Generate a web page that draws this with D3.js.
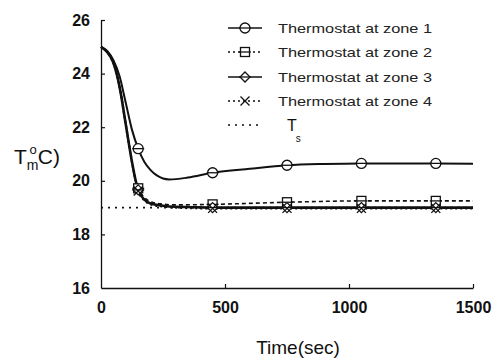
<!DOCTYPE html>
<html>
<head>
<meta charset="utf-8">
<script src="https://cdn.jsdelivr.net/npm/d3@7"></script>
<style>
  html, body { margin: 0; padding: 0; background: #fff; }
  svg { display: block; }
</style>
</head>
<body>
<svg id="chart" width="500" height="361"></svg>
<script>
// Zone temperature response after a set-point change
const xTicks = [0, 500, 1000, 1500];
const yTicks = [16, 18, 20, 22, 24, 26];

const time1 = [0, 25, 50, 75, 100, 125, 150, 175, 200, 225, 275, 350, 450, 600, 750, 900, 1050, 1200, 1350, 1500];
const zone1 = [25.0, 24.85, 24.5, 23.9, 22.9, 21.9, 21.2, 20.7, 20.4, 20.2, 20.05, 20.12, 20.3, 20.45, 20.58, 20.63, 20.65, 20.65, 20.65, 20.64];

const time2 = [0, 25, 50, 75, 100, 125, 140, 150, 175, 200, 250, 300, 450, 750, 1050, 1350, 1500];
const zone2 = [25.0, 24.8, 24.4, 23.5, 22.1, 20.7, 20.0, 19.72, 19.38, 19.22, 19.13, 19.1, 19.12, 19.2, 19.25, 19.25, 19.25];
const zone3 = [25.0, 24.8, 24.4, 23.5, 22.1, 20.7, 20.0, 19.66, 19.3, 19.15, 19.07, 19.03, 19.0, 19.0, 19.0, 19.0, 19.0];
const zone4 = [25.0, 24.8, 24.4, 23.5, 22.1, 20.7, 20.0, 19.62, 19.27, 19.12, 19.04, 19.0, 18.97, 18.97, 18.97, 18.97, 18.97];

const markerTimes = [150, 450, 750, 1050, 1350];
const setPoint = 19;

const seriesNames = ["Thermostat at zone 1", "Thermostat at zone 2", "Thermostat at zone 3", "Thermostat at zone 4"];

const svg = d3.select("#chart");
const x = d3.scaleLinear().domain([0, 1500]).range([101, 473]);
const y = d3.scaleLinear().domain([16, 26]).range([288, 20]);

const series = [
  { t: time1, v: zone1, dash: null, width: 2, marker: "circle" },
  { t: time2, v: zone2, dash: "4,3", width: 1.6, marker: "square" },
  { t: time2, v: zone3, dash: null, width: 2.6, marker: "diamond" },
  { t: time2, v: zone4, dash: "2,3", width: 2.2, marker: "cross" }
];

const line = d3.line().x(d => x(d[0])).y(d => y(d[1])).curve(d3.curveMonotoneX);

function drawMarker(g, type, cx, cy) {
  const s = g.append("g").attr("transform", `translate(${cx},${cy})`)
    .attr("fill", "none").attr("stroke", "#111").attr("stroke-width", 1.3);
  if (type === "circle") s.append("circle").attr("r", 5).attr("fill", "#fff");
  if (type === "square") s.append("rect").attr("x", -4.5).attr("y", -4.5).attr("width", 9).attr("height", 9).attr("fill", "#fff");
  if (type === "diamond") s.append("path").attr("d", "M0,-5L5,0L0,5L-5,0Z").attr("fill", "#fff");
  if (type === "cross") s.append("path").attr("d", "M-4.5,-4.5L4.5,4.5M-4.5,4.5L4.5,-4.5");
  if (type !== "cross") s.append("line").attr("x1", -6).attr("x2", 6);
}

// set-point line
svg.append("path")
  .attr("d", line([[0, setPoint], [1500, setPoint]]))
  .attr("fill", "none").attr("stroke", "#111").attr("stroke-width", 1.8)
  .attr("stroke-dasharray", "2,5");

series.forEach(s => {
  const pts = s.t.map((t, i) => [t, s.v[i]]);
  svg.append("path").attr("d", line(pts))
    .attr("fill", "none").attr("stroke", "#111")
    .attr("stroke-width", s.width)
    .attr("stroke-dasharray", s.dash);
});

series.forEach(s => {
  const interp = t => {
    const i = d3.bisectLeft(s.t, t);
    if (s.t[i] === t) return s.v[i];
    const f = (t - s.t[i - 1]) / (s.t[i] - s.t[i - 1]);
    return s.v[i - 1] + f * (s.v[i] - s.v[i - 1]);
  };
  markerTimes.forEach(t => drawMarker(svg, s.marker, x(t), y(interp(t))));
});

// axes
const yAxis = d3.axisLeft(y).tickValues(yTicks).tickFormat(d3.format("d"))
  .tickSizeInner(-4).tickSizeOuter(0).tickPadding(11);
const xAxis = d3.axisBottom(x).tickValues(xTicks).tickFormat(d3.format("d"))
  .tickSizeInner(-4).tickSizeOuter(0).tickPadding(14);

const gy = svg.append("g").attr("transform", "translate(101,0)").call(yAxis);
const gx = svg.append("g").attr("transform", "translate(0,288)").call(xAxis);
[gy, gx].forEach(g => {
  g.select(".domain").attr("stroke", "#111").attr("stroke-width", 1.3);
  g.selectAll(".tick line").attr("stroke", "#111").attr("stroke-width", 1.2);
  g.selectAll(".tick text").attr("fill", "#111")
    .style("font-family", "Liberation Sans, Arial, sans-serif")
    .style("font-size", "16px").style("font-weight", "bold");
});
gx.selectAll(".tick").filter(d => d === 0).select("line").remove();
gy.selectAll(".tick").filter(d => d === 16).select("line").remove();

// axis titles
svg.append("text").attr("x", 298).attr("y", 354).attr("text-anchor", "middle")
  .style("font-family", "Liberation Sans, Arial, sans-serif").style("font-size", "19px")
  .attr("fill", "#111").text("Time(sec)");

const yl = svg.append("text").attr("x", 14).attr("y", 164)
  .style("font-family", "Liberation Sans, Arial, sans-serif").style("font-size", "21px")
  .attr("fill", "#111");
yl.append("tspan").text("T");
yl.append("tspan").attr("dy", 6).style("font-size", "14px").text("m");
yl.append("tspan").attr("dx", -9).attr("dy", -16).style("font-size", "13px").text("o");
yl.append("tspan").attr("dx", 1).attr("dy", 10).text("C)");

// legend
const legendY = [28, 52, 77, 101];
const lg = svg.append("g");
series.forEach((s, i) => {
  const ly = legendY[i];
  lg.append("line").attr("x1", 228).attr("x2", 262).attr("y1", ly).attr("y2", ly)
    .attr("stroke", "#111").attr("stroke-width", 1.3)
    .attr("stroke-dasharray", s.dash ? "2,3" : null);
  drawMarker(lg, s.marker, 245, ly);
  lg.append("text").attr("x", 278).attr("y", ly + 5)
    .attr("textLength", 154).attr("lengthAdjust", "spacingAndGlyphs")
    .style("font-family", "Liberation Sans, Arial, sans-serif").style("font-size", "13px")
    .attr("fill", "#222").text(seriesNames[i]);
});
lg.append("line").attr("x1", 228).attr("x2", 262).attr("y1", 125).attr("y2", 125)
  .attr("stroke", "#111").attr("stroke-width", 1.5).attr("stroke-dasharray", "2,5");
const ts = lg.append("text").attr("x", 287).attr("y", 131)
  .style("font-family", "Liberation Sans, Arial, sans-serif").style("font-size", "16px")
  .attr("fill", "#111");
ts.append("tspan").text("T");
ts.append("tspan").attr("dy", 11).attr("dx", -1).style("font-size", "10px").text("s");
</script>
</body>
</html>
